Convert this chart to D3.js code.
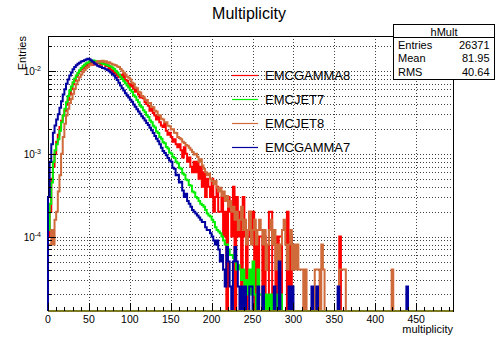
<!DOCTYPE html>
<html>
<head>
<meta charset="utf-8">
<script src="https://cdn.jsdelivr.net/npm/d3@7"></script>
<style>
  body { margin: 0; background: #fff; }
  svg { display: block; }
  text { font-family: "Liberation Sans", Arial, Helvetica, sans-serif; fill: #000; }
</style>
</head>
<body>
<svg id="chart" width="496" height="341"></svg>
<script>
// Multiplicity distributions, normalised; bin width 2, values in units of 1e-5.
const BIN = 2;
const UNIT = 1e-5;
const X_MAX = 495;

const emcGamma8 = [
  10,20,50,70,100,140,170,210,250,290,
  330,390,450,520,600,690,760,850,930,990,
  1040,1090,1130,1180,1140,1220,1260,1190,1280,1230,
  1300,1240,1190,1280,1220,1150,1200,1090,1040,1000,
  960,930,880,840,900,830,930,780,760,700,
  650,690,610,560,590,520,480,500,470,420,
  400,380,330,350,310,290,260,280,240,220,
  210,230,190,170,180,160,140,150,130,120,
  130,110,90,120,100,80,90,70,60,80,
  60,80,50,70,40,60,30,50,40,30,
  50,20,30,40,20,20,30,10,20,0,
  30,20,10,40,0,30,10,20,0,30,
  10,0,10,20,10,20,0,10,0,10,
  10,0,10,0,0,20,20,0,0,10,
  0,10,10,0,0,0,20,0,10,0,
  0,0,0,0,0,0,0,0,0,0,
  0,0,0,0,0,0,0,0,0,0,
  0,0,0,0,0,0,0,0,10,0
];

const emcJet7 = [
  12,25,45,80,110,130,150,190,240,290,
  350,420,500,580,650,730,810,880,950,1020,
  1090,1140,1190,1240,1270,1300,1320,1340,1330,1300,
  1290,1270,1260,1230,1210,1200,1170,1150,1130,1100,
  1060,1010,960,900,850,800,750,710,670,630,
  590,560,510,490,445,420,380,365,335,318,
  292,278,252,240,218,208,186,178,160,152,
  138,134,121,116,104,101,92,89,80,77,
  68,66,58,56,49,48,42,41,35,34,
  30,29,27,25,24,23,21,19,18,17.5,
  16,15,13,12,11.5,11,10,9,8,8,
  7,6,6,5.5,5,4,4.5,4,3,4,
  2,3,2,4,2,5,2,0,4,2,
  2,0,2,0,2,0,2,0,0,2,
  0,0,2,0,0,0,0,0,0,0,
  0,0,0,0,0,0,0,0,0,0,
  0,0,2,0,0,0,0,0,0,0
];

const emcJet8 = [
  8,8,12,8,16,20,35,55,100,160,
  230,290,350,410,460,530,610,690,770,840,
  910,970,1020,1080,1120,1170,1200,1230,1250,1280,
  1300,1320,1290,1330,1290,1310,1260,1280,1230,1210,
  1190,1170,1130,1120,1060,1010,950,910,850,830,
  790,720,700,630,620,560,550,500,490,450,
  445,410,410,370,365,330,325,295,290,265,
  260,240,240,218,215,196,198,180,178,160,
  155,150,140,135,128,125,118,112,105,98,
  100,92,80,86,72,66,60,55,58,50,
  47,43,47,39,35,39,31,35,27,31,
  23,27,20,23,16,20,12,16,23,12,
  16,8,12,20,8,12,16,8,12,16,
  12,8,12,4,8,12,16,8,12,4,
  8,4,8,12,16,8,4,8,12,4,
  8,4,8,4,4,4,0,4,0,0,
  0,0,0,4,4,4,0,8,4,0,
  0,0,0,0,0,0,0,0,4,4,
  4,4,0,0,0,0,0,0,0,0,
  0,0,0,0,0,0,0,0,0,0,
  0,0,0,0,0,0,0,0,0,0,
  4
];

const emcGamma7 = [
  30,80,130,180,220,260,300,360,430,520,
  600,700,790,880,960,1050,1120,1170,1220,1260,
  1300,1320,1350,1380,1410,1390,1340,1290,1240,1200,
  1160,1130,1120,1090,1080,1050,1030,990,960,920,
  880,830,780,720,670,620,580,540,510,480,
  450,425,395,370,345,325,305,285,268,252,
  236,222,206,192,178,164,152,142,130,118,
  108,102,96,89,83,80,68,66,55,56,
  45,46,36,30,33,27,25,23,21,20,
  19,18,17,16,15,15,13,12,12,11,
  10,9,8,9,7,5,6,4,2.5,7.5,
  5,2.5,0,5,7.5,5,2.5,0,2.5,0,
  2.5,0,0,2.5,2.5,0,0,0,2.5,0,
  0,2.5,0,0,0,0,0,0,2.5,0,
  0,5,0,0,0,0,0,2.5,0,2.5,
  0,0,0,0,0,0,0,0,0,0,
  0,2.5,0,0,2.5,0,0,0,0,0,
  0,0,0,0,0,0,0,2.5,0,0,
  0,0,0,0,0,0,0,0,0,0,
  0,0,0,0,0,0,0,0,0,0,
  0,0,0,0,0,0,0,0,0,0,
  0,0,0,0,0,0,0,0,0,2.5
];

const seriesNames  = ["EMCGAMMA8", "EMCJET7", "EMCJET8", "EMCGAMMA7"];
const seriesValues = [emcGamma8, emcJet7, emcJet8, emcGamma7];
const seriesColors = ["#ff0000", "#00ee00", "#cf6a3a", "#0000a0"];

const xTickValues = [0, 50, 100, 150, 200, 250, 300, 350, 400, 450];
const yDecades = [1e-4, 1e-3, 1e-2];
const statsTitle = "hMult";
const statsLabels = ["Entries", "Mean", "RMS"];
const statsValues = ["26371", "81.95", "40.64"];

// ---- layout ----
const svg = d3.select("#chart");
const frame = { left: 48, right: 453, top: 36, bottom: 311 };

const x = d3.scaleLinear().domain([0, X_MAX]).range([frame.left, frame.right]);
const y = d3.scaleLog().domain([1.263e-5, 2.647e-2]).range([frame.bottom, frame.top]);
const yPos = v => v > 0 ? Math.max(frame.top, Math.min(frame.bottom, y(v))) : frame.bottom;

// grid: vertical at labelled x ticks, horizontal at every log sub-division
const gridG = svg.append("g")
  .attr("stroke", "#000").attr("stroke-width", 1)
  .attr("stroke-dasharray", "1,2").attr("stroke-opacity", 0.75);
xTickValues.filter(t => t > 0).forEach(t => {
  gridG.append("line")
    .attr("x1", Math.round(x(t)) + 0.5).attr("x2", Math.round(x(t)) + 0.5)
    .attr("y1", frame.top).attr("y2", frame.bottom);
});
const yGridValues = [];
[1e-5, 1e-4, 1e-3, 1e-2].forEach(d => {
  for (let m = 1; m <= 9; m++) {
    const v = m * d;
    if (v > y.domain()[0] && v < y.domain()[1]) yGridValues.push(v);
  }
});
yGridValues.forEach(v => {
  gridG.append("line")
    .attr("x1", frame.left).attr("x2", frame.right)
    .attr("y1", Math.round(y(v)) + 0.5).attr("y2", Math.round(y(v)) + 0.5);
});

// frame
svg.append("rect")
  .attr("x", frame.left + 0.5).attr("y", frame.top + 0.5)
  .attr("width", frame.right - frame.left).attr("height", frame.bottom - frame.top)
  .attr("fill", "none").attr("stroke", "#000").attr("stroke-width", 1);

// histograms as step outlines
svg.append("clipPath").attr("id", "plotClip")
  .append("rect").attr("x", frame.left - 1).attr("y", frame.top)
  .attr("width", frame.right - frame.left + 2).attr("height", frame.bottom - frame.top + 2);

const stepLine = d3.line()
  .x(d => x(d[0]))
  .y(d => yPos(d[1]))
  .curve(d3.curveStepAfter);

const histG = svg.append("g").attr("clip-path", "url(#plotClip)");
seriesValues.forEach((vals, k) => {
  const pts = [[0, 0]];
  const nBins = Math.ceil(X_MAX / BIN);
  for (let i = 0; i < nBins; i++) {
    const v = i < vals.length ? vals[i] * UNIT : 0;
    pts.push([i * BIN, v]);
  }
  pts.push([X_MAX, pts[pts.length - 1][1]]);
  pts.push([X_MAX, 0]);
  histG.append("path")
    .attr("d", stepLine(pts))
    .attr("fill", "none")
    .attr("stroke", seriesColors[k])
    .attr("stroke-width", 2)
    .attr("stroke-linejoin", "miter");
});

// baseline where the empty bins of all histograms coincide
svg.append("line")
  .attr("x1", frame.left).attr("x2", frame.right)
  .attr("y1", frame.bottom).attr("y2", frame.bottom)
  .attr("stroke", "#7d7a22").attr("stroke-width", 2);

// x ticks (inside, upward)
const tickG = svg.append("g").attr("stroke", "#000").attr("stroke-width", 1);
for (let t = 0; t <= X_MAX; t += 10) {
  const major = t % 50 === 0;
  const xx = Math.round(x(t)) + 0.5;
  tickG.append("line").attr("x1", xx).attr("x2", xx)
    .attr("y1", frame.bottom).attr("y2", frame.bottom - (major ? 8 : 4));
}
// y ticks (inside, rightward)
yGridValues.forEach(v => {
  const major = yDecades.includes(v);
  const yy = Math.round(y(v)) + 0.5;
  tickG.append("line").attr("x1", frame.left).attr("x2", frame.left + (major ? 8 : 4))
    .attr("y1", yy).attr("y2", yy);
});

// x tick labels
svg.append("g").selectAll("text").data(xTickValues).join("text")
  .attr("x", d => x(d)).attr("y", 322.5)
  .attr("text-anchor", "middle").attr("font-size", 10.5)
  .text(d => d);

// y tick labels 10^n
yDecades.forEach(v => {
  const exp = Math.round(Math.log10(v));
  const t = svg.append("text")
    .attr("x", 41).attr("y", y(v) + 4)
    .attr("text-anchor", "end").attr("font-size", 10);
  t.append("tspan").text("10");
  t.append("tspan").attr("dy", -4).attr("font-size", 7).text(String(exp));
});

// axis titles
svg.append("text")
  .attr("x", frame.right).attr("y", 333)
  .attr("text-anchor", "end").attr("font-size", 11)
  .text("multiplicity");
svg.append("text")
  .attr("transform", `translate(26,${frame.top}) rotate(-90)`)
  .attr("text-anchor", "end").attr("font-size", 11)
  .text("Entries");

// title
svg.append("text")
  .attr("x", 249).attr("y", 19)
  .attr("text-anchor", "middle").attr("font-size", 16)
  .text("Multiplicity");

// legend
seriesNames.forEach((name, i) => {
  const ly = 75.5 + 24 * i;
  svg.append("line")
    .attr("x1", 232).attr("x2", 258).attr("y1", ly).attr("y2", ly)
    .attr("stroke", seriesColors[i]).attr("stroke-width", 1.2);
  svg.append("text")
    .attr("x", 265).attr("y", ly + 4.5)
    .attr("font-size", 13)
    .text(name);
});

// statistics box
const sb = { x: 393, y: 24, w: 102, h: 55 };
svg.append("rect")
  .attr("x", sb.x + 0.5).attr("y", sb.y + 0.5).attr("width", sb.w - 1).attr("height", sb.h)
  .attr("fill", "#fff").attr("stroke", "#000");
svg.append("line")
  .attr("x1", sb.x).attr("x2", sb.x + sb.w).attr("y1", 37.5).attr("y2", 37.5)
  .attr("stroke", "#000");
svg.append("text")
  .attr("x", sb.x + sb.w / 2).attr("y", 35.5)
  .attr("text-anchor", "middle").attr("font-size", 11)
  .text(statsTitle);
statsLabels.forEach((lab, i) => {
  const by = 48.5 + 13.8 * i;
  svg.append("text").attr("x", 398).attr("y", by).attr("font-size", 11).text(lab);
  svg.append("text").attr("x", 489.5).attr("y", by).attr("text-anchor", "end")
    .attr("font-size", 11).text(statsValues[i]);
});
</script>
</body>
</html>
